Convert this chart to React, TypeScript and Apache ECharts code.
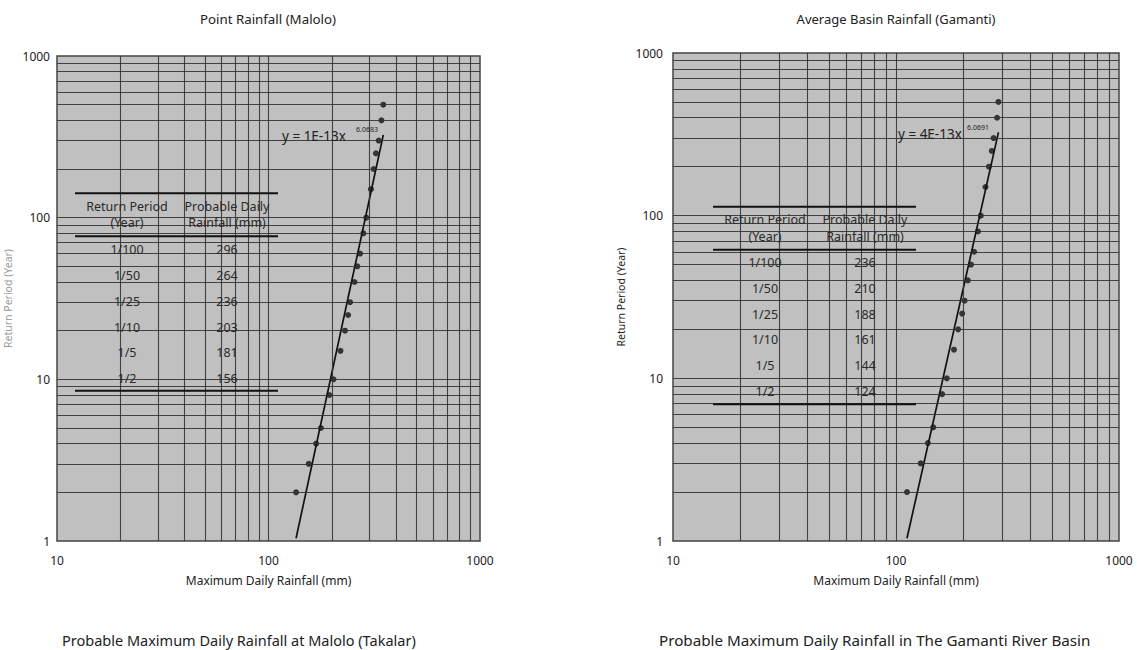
import React, { useEffect, useRef } from "react";
import * as echarts from "echarts";

// ---- data ----
const returnPeriods = [2, 3, 4, 5, 8, 10, 15, 20, 25, 30, 40, 50, 60, 80, 100, 150, 200, 250, 300, 400, 500];
const maloloRainfall = [135, 155, 168, 177, 194, 203, 219, 230, 238, 243, 255, 263, 271, 281, 290, 305, 314, 322, 332, 342, 349];
const gamantiRainfall = [112, 129, 139, 147, 161, 169, 182, 190, 198, 203, 210, 217, 224, 233, 240, 252, 261, 269, 274, 284, 288];
// trend line end points [rainfall, return period]
const maloloTrend = [[135, 1.04], [349, 325]];
const gamantiTrend = [[112, 1.04], [288, 325]];
const maloloEquation = ["y = 1E-13x", "6.0683"];
const gamantiEquation = ["y = 4E-13x", "6.0691"];

const xGridValues = [20, 30, 40, 50, 60, 70, 80, 90, 100, 200, 300, 400, 500, 600, 700, 800, 900];
const yGridValues = [2, 3, 4, 5, 6, 7, 8, 9, 10, 20, 30, 40, 50, 60, 70, 80, 90, 100, 200, 300, 400, 500, 600, 700, 800, 900];

const tableHeader1 = ["Return Period", "(Year)"];
const tableHeader2 = ["Probable Daily", "Rainfall (mm)"];
const tableReturn = ["1/100", "1/50", "1/25", "1/10", "1/5", "1/2"];
const maloloTable = ["296", "264", "236", "203", "181", "156"];
const gamantiTable = ["236", "210", "188", "161", "144", "124"];

const titles = ["Point Rainfall (Malolo)", "Average Basin Rainfall (Gamanti)"];
const captions = ["Probable Maximum Daily Rainfall at Malolo (Takalar)", "Probable Maximum Daily Rainfall in The Gamanti River Basin"];
const xName = "Maximum Daily Rainfall (mm)";
const yName = "Return Period (Year)";

const FONT = "Noto Sans, sans-serif";
const TXT = "#222";

function makeTable(x0: number, y0: number, step: number, values: string[]) {
  const els: any[] = [];
  const rule = (y: number) => ({
    type: "line",
    shape: { x1: x0, y1: y, x2: x0 + 203, y2: y },
    style: { stroke: "#111", lineWidth: 2 },
    z: 20,
  });
  const txt = (x: number, y: number, s: string) => ({
    type: "text",
    x,
    y,
    style: { text: s, fontSize: 12.5, fontFamily: FONT, fill: "#2a2a2a", align: "center", verticalAlign: "middle" },
    z: 20,
  });
  els.push(rule(y0));
  els.push(txt(x0 + 52, y0 + 13, tableHeader1[0]));
  els.push(txt(x0 + 52, y0 + 29.5, tableHeader1[1]));
  els.push(txt(x0 + 152, y0 + 13, tableHeader2[0]));
  els.push(txt(x0 + 152, y0 + 29.5, tableHeader2[1]));
  els.push(rule(y0 + 43));
  tableReturn.forEach((r, i) => {
    els.push(txt(x0 + 52, y0 + 56 + i * step, r));
    els.push(txt(x0 + 152, y0 + 56 + i * step, values[i]));
  });
  els.push(rule(y0 + 197.5));
  return els;
}

function gridMarkLine() {
  return {
    silent: true,
    symbol: ["none", "none"],
    label: { show: false },
    emphasis: { disabled: true },
    lineStyle: { color: "#333", width: 1.1, type: "solid", opacity: 0.9 },
    data: [
      ...xGridValues.map((v) => ({ xAxis: v })),
      ...yGridValues.map((v) => ({ yAxis: v })),
    ],
  };
}

export default function App() {
  const ref = useRef<HTMLDivElement>(null);

  useEffect(() => {
    if (!ref.current) return;
    const chart = echarts.init(ref.current, undefined, { renderer: "svg" });

    const fmt = (v: number) => String(Math.round(v));

    const xAxisBase = (gridIndex: number) => ({
      type: "log",
      logBase: 10,
      min: 10,
      max: 1000,
      gridIndex,
      axisLine: { show: false },
      axisTick: { show: false },
      splitLine: { show: false },
      axisLabel: { fontSize: 12, color: TXT, margin: 13, fontFamily: FONT, formatter: fmt },
      name: xName,
      nameLocation: "middle",
      nameGap: 33,
      nameTextStyle: { fontSize: 12, color: TXT, fontFamily: FONT },
    });
    const yAxisBase = (gridIndex: number, margin: number, nameGap: number, nameColor: string) => ({
      type: "log",
      logBase: 10,
      min: 1,
      max: 1000,
      gridIndex,
      axisLine: { show: false },
      axisTick: { show: false },
      splitLine: { show: false },
      axisLabel: { fontSize: 12, color: TXT, margin, fontFamily: FONT, formatter: fmt },
      name: yName,
      nameLocation: "middle",
      nameGap,
      nameRotate: 90,
      nameTextStyle: { fontSize: 10.5, color: nameColor, fontFamily: FONT },
    });

    const scatter = (idx: number, rain: number[]) => ({
      type: "scatter",
      xAxisIndex: idx,
      yAxisIndex: idx,
      symbol: "circle",
      symbolSize: 6,
      itemStyle: { color: "#111" },
      data: returnPeriods.map((t, i) => [rain[i], t]),
      markLine: gridMarkLine(),
      z: 3,
    });
    const trend = (idx: number, pts: number[][]) => ({
      type: "line",
      xAxisIndex: idx,
      yAxisIndex: idx,
      showSymbol: false,
      lineStyle: { color: "#111", width: 1.7 },
      data: pts,
      z: 4,
    });

    const eq = (x: number, y: number, e: string[], supX: number) => [
      {
        type: "text",
        x,
        y,
        style: { text: e[0], fontSize: 13.5, fontFamily: FONT, fill: "#222", verticalAlign: "middle" },
        z: 20,
      },
      {
        type: "text",
        x: supX,
        y: y - 7,
        style: { text: e[1], fontSize: 7, fontFamily: FONT, fill: "#222", verticalAlign: "middle" },
        z: 20,
      },
    ];

    chart.setOption({
      animation: false,
      textStyle: { fontFamily: FONT },
      grid: [
        { left: 57, top: 56, width: 423, height: 485, show: true, backgroundColor: "#c0c0c0", borderColor: "#444", borderWidth: 1.5 },
        { left: 673, top: 53, width: 446, height: 488, show: true, backgroundColor: "#c0c0c0", borderColor: "#444", borderWidth: 1.5 },
      ],
      xAxis: [xAxisBase(0), xAxisBase(1)],
      yAxis: [yAxisBase(0, 7, 44, "#999"), yAxisBase(1, 10, 47, TXT)],
      series: [scatter(0, maloloRainfall), trend(0, maloloTrend), scatter(1, gamantiRainfall), trend(1, gamantiTrend)],
      graphic: [
        { type: "text", x: 268, y: 19, style: { text: titles[0], fontSize: 13.3, fontFamily: FONT, fill: TXT, align: "center", verticalAlign: "middle" } },
        { type: "text", x: 896, y: 19, style: { text: titles[1], fontSize: 13, fontFamily: FONT, fill: TXT, align: "center", verticalAlign: "middle" } },
        { type: "text", x: 62, y: 640, style: { text: captions[0], fontSize: 14.5, fontFamily: FONT, fill: TXT, align: "left", verticalAlign: "middle" } },
        { type: "text", x: 659, y: 640, style: { text: captions[1], fontSize: 15.2, fontFamily: FONT, fill: TXT, align: "left", verticalAlign: "middle" } },
        ...makeTable(75, 193.3, 25.9, maloloTable),
        ...makeTable(713, 206.7, 25.7, gamantiTable),
        ...eq(282, 136, maloloEquation, 356),
        ...eq(898, 134, gamantiEquation, 967),
      ],
    });

    return () => chart.dispose();
  }, []);

  return (
    <div
      ref={ref}
      style={{ position: "fixed", left: 0, top: 0, width: 1137, height: 650, background: "#fff" }}
    />
  );
}
